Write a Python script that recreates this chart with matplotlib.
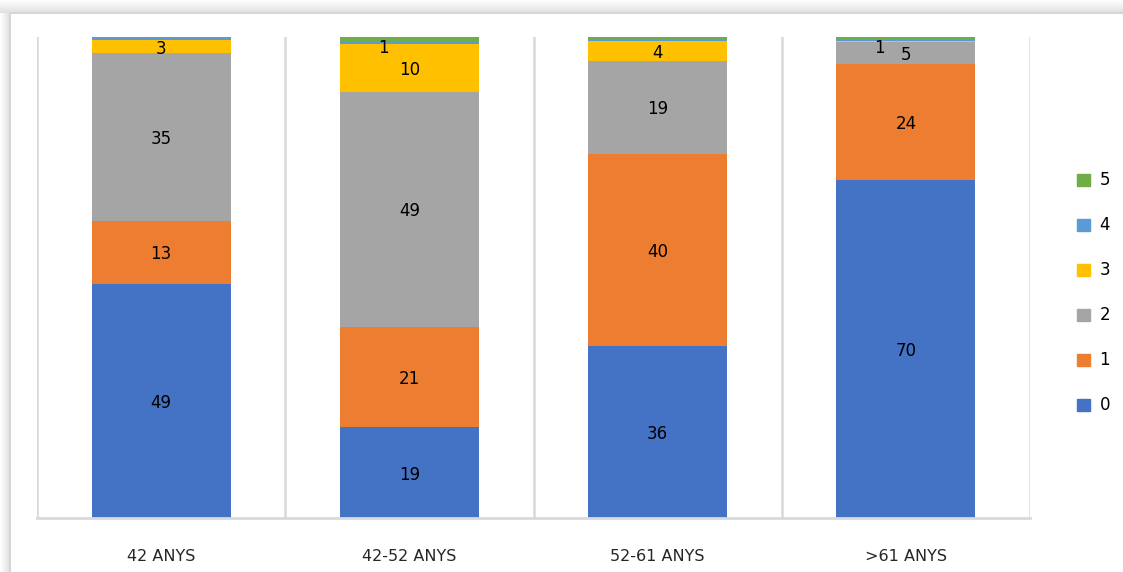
import numpy as np
import matplotlib.pyplot as plt
from matplotlib.patches import Patch

groups = ["42 ANYS", "42-52 ANYS", "52-61 ANYS", ">61 ANYS"]
series = ["0", "1", "2", "3", "4", "5"]
colors = ["#4472C4", "#ED7D31", "#A5A5A5", "#FFC000", "#5B9BD5", "#70AD47"]

# percentage share per group (each group adds to 100)
v0 = [48.6, 18.9, 35.8, 70.2]
v1 = [13.2, 20.8, 39.9, 24.1]
v2 = [34.9, 48.9, 19.4, 4.6]
v3 = [2.6, 10.0, 4.1, 0.3]
v4 = [0.4, 0.4, 0.4, 0.1]
v5 = [0.3, 1.0, 0.4, 0.7]
values = [v0, v1, v2, v3, v4, v5]

W, H = 1123, 572
fig = plt.figure(figsize=(W / 100, H / 100), dpi=100)

# soft shadow / frame like the pasted Excel chart
g = np.linspace(1.0, 0.88, 20)
top_img = np.dstack([g, g, g]).reshape(20, 1, 3)
sh = fig.add_axes([0, 1 - 13 / H, 1, 13 / H])
sh.imshow(top_img, aspect="auto", extent=[0, 1, 0, 1])
sh.axis("off")
left_img = np.dstack([g, g, g]).reshape(1, 20, 3)
sl = fig.add_axes([0, 0, 10 / W, 1 - 13 / H])
sl.imshow(left_img, aspect="auto", extent=[0, 1, 0, 1])
sl.axis("off")
fig.add_artist(plt.Line2D([10 / W, 10 / W], [0, 1 - 13 / H], color="#d6d6d6", lw=1.5))
fig.add_artist(plt.Line2D([10 / W, 1], [1 - 13 / H, 1 - 13 / H], color="#d6d6d6", lw=1.5))

ax = fig.add_axes([37 / W, 54 / H, (1030 - 37) / W, (518 - 37) / H])
x = np.arange(len(groups))
bottom = np.zeros(len(groups))
for name, vals, c in zip(series, values, colors):
    vals = np.array(vals)
    ax.bar(x, vals, 0.56, bottom=bottom, color=c, label=name, zorder=2)
    for i, v in enumerate(vals):
        lab = "%.0f" % v
        if lab == "0":
            continue
        if v < 2:
            ax.annotate(lab, (x[i], bottom[i] + v / 2), xytext=(-19, -5),
                        textcoords="offset points", ha="center", va="center_baseline",
                        fontsize=12, color="#000000")
        else:
            ax.text(x[i], bottom[i] + v / 2, lab, ha="center", va="center_baseline",
                    fontsize=12, color="#000000")
    bottom += vals

ax.set_xlim(-0.5, 3.5)
ax.set_ylim(0, 100)
ax.set_yticks([])
ax.set_xticks(x)
ax.set_xticklabels(groups, fontsize=11.5, color="#262626")
ax.tick_params(axis="x", length=0, pad=22)
for b in [-0.5, 0.5, 1.5, 2.5, 3.5]:
    ax.axvline(b, color="#d9d9d9", lw=1.8, zorder=1)
for s in ["top", "left", "right"]:
    ax.spines[s].set_visible(False)
ax.spines["bottom"].set_color("#d9d9d9")
ax.spines["bottom"].set_linewidth(2)

handles = [Patch(color=c, label=n) for n, c in zip(series, colors)][::-1]
fig.legend(handles=handles, loc="center left", bbox_to_anchor=(1062 / W, 1 - 293 / H),
           frameon=False, fontsize=12, handlelength=0.75, handleheight=0.75,
           handletextpad=0.6, labelspacing=1.62)

fig.savefig("out.png", dpi=100)
